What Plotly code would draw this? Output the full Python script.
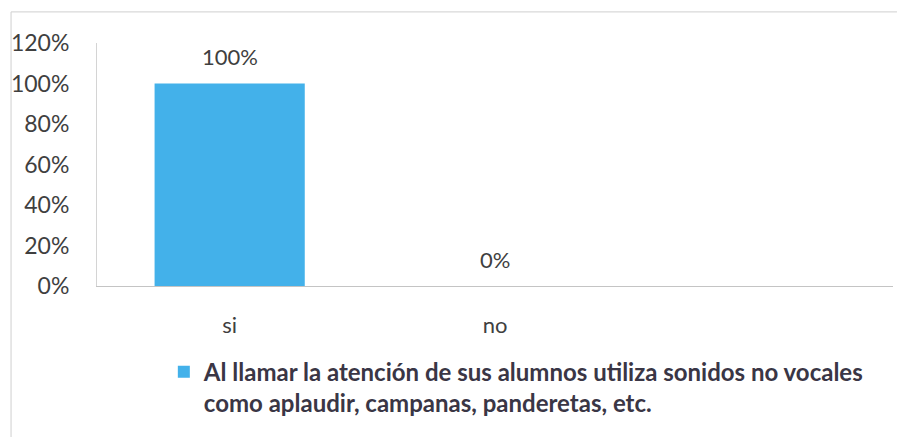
import plotly.graph_objects as go

categories = ["si", "no", " "]
values = [1.0, 0.0, None]
data_labels = ["100%", "0%", ""]
series_name = "Al llamar la atención de sus alumnos utiliza sonidos no vocales<br>como aplaudir, campanas, panderetas, etc."
y_ticks = [0, 0.2, 0.4, 0.6, 0.8, 1.0, 1.2]
y_tick_labels = ["0%", "20%", "40%", "60%", "80%", "100%", "120%"]

BAR = "#43B1EA"
TXT = "#3f3f3f"
FONT = "Lato"

fig = go.Figure()
fig.add_trace(go.Bar(
    x=categories, y=values, name=series_name,
    marker=dict(color=BAR, line=dict(width=0)),
    showlegend=True,
))

for c, v, t in zip(categories, values, data_labels):
    if v is None:
        continue
    fig.add_annotation(x=c, y=v, text=t, showarrow=False, yshift=27,
                       font=dict(family=FONT, size=22, color=TXT))

fig.update_layout(
    width=906, height=437,
    margin=dict(l=89, r=21, t=35, b=159, autoexpand=False),
    paper_bgcolor="white", plot_bgcolor="white",
    bargap=0.434,
    font=dict(family=FONT, color=TXT),
    legend=dict(
        xref="container", yref="container",
        x=0.172, y=0.218, xanchor="left", yanchor="top",
        valign="top",
        font=dict(family=FONT, size=24, color="#3a3645", weight="bold"),
        bgcolor="rgba(0,0,0,0)",
    ),
    xaxis=dict(
        type="category", categoryorder="array", categoryarray=categories,
        showline=True, linecolor="#c4c4c4", linewidth=1,
        showgrid=False, ticks="", zeroline=False,
        tickfont=dict(family=FONT, size=22, color=TXT),
        ticklabelstandoff=20,
    ),
    yaxis=dict(
        range=[0, 1.2], tickvals=y_ticks, ticktext=y_tick_labels,
        showline=True, linecolor="#d4d4d4", linewidth=1,
        showgrid=False, ticks="", zeroline=False,
        tickfont=dict(family=FONT, size=23, color=TXT),
        ticklabelstandoff=22,
    ),
    shapes=[
        dict(type="line", xref="paper", yref="paper",
             x0=-0.108, x1=1.005, y0=1.128, y1=1.128,
             line=dict(color="#cfcfcf", width=1), layer="below"),
        dict(type="line", xref="paper", yref="paper",
             x0=-0.108, x1=-0.108, y0=-0.7, y1=1.128,
             line=dict(color="#cfcfcf", width=1), layer="below"),
    ],
)

fig.write_html("out.html")
